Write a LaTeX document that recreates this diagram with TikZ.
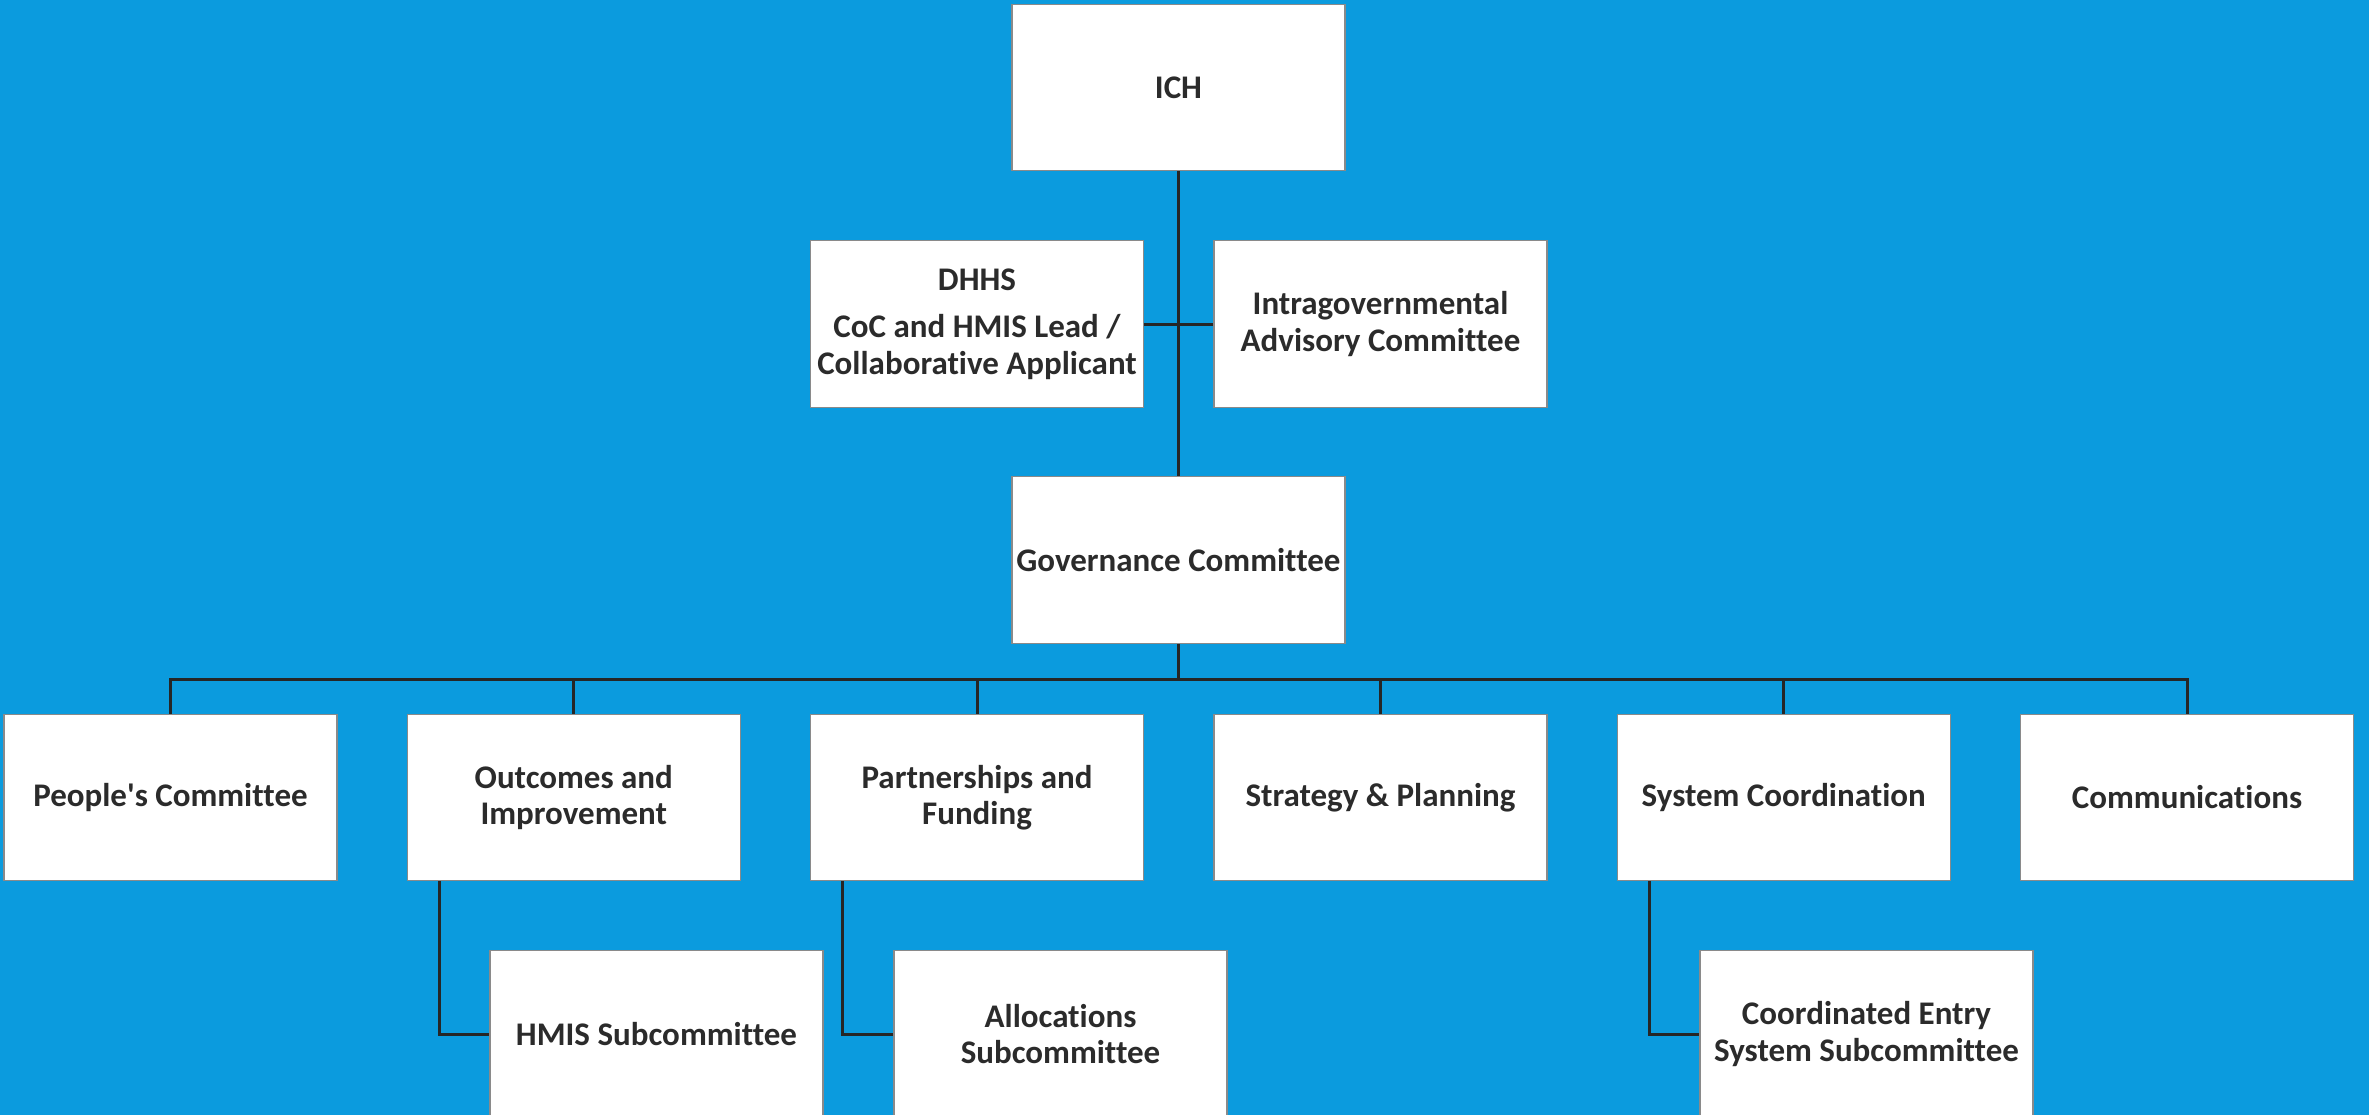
\documentclass[tikz,border=0pt]{standalone}
\usepackage{fontspec}
\newfontfamily\labfont{Carlito}[Ligatures=NoCommon]
\definecolor{bg}{HTML}{0B9BDE}
\definecolor{txt}{HTML}{2B2B2B}
\definecolor{ln}{HTML}{262626}
\definecolor{bd}{HTML}{8A8A8A}
\begin{document}
\begin{tikzpicture}[x=1pt,y=-1pt,
  box/.style={draw=bd,line width=1.2pt,fill=white,minimum width=333pt,minimum height=166.5pt,
    inner sep=2pt,align=center,text=txt,font=\labfont\fontsize{33}{36.5}\selectfont\bfseries},
  conn/.style={draw=ln,line width=3pt}]
\useasboundingbox (0,0) rectangle (2369,1115);
\clip (0,0) rectangle (2369,1115);
\fill[bg] (0,0) rectangle (2369,1115);
% nodes
\node[box] (ich) at (1178.5,87.5) {ICH};
\node[box] (dhhs) at (977,324) {DHHS\\[11pt]CoC and HMIS Lead /\\Collaborative Applicant};
\node[box] (intra) at (1380.5,324) {Intragovernmental\\Advisory Committee};
\node[box] (gov) at (1178.5,560) {Governance Committee};
\node[box] (people) at (170.5,797.5) {People's Committee};
\node[box] (outc) at (573.8,797.5) {Outcomes and\\Improvement};
\node[box] (partn) at (977,797.5) {Partnerships and\\Funding};
\node[box] (strat) at (1380.5,797.5) {Strategy \& Planning};
\node[box] (sysc) at (1783.7,797.5) {System Coordination};
\node[box] (comm) at (2187,797.5) {Communications};
\node[box] (hmis) at (656.5,1034) {HMIS Subcommittee};
\node[box] (alloc) at (1060.5,1034) {Allocations\\Subcommittee};
\node[box] (ces) at (1866.5,1034) {Coordinated Entry\\System Subcommittee};
\coordinate (bus) at (1178.5,679);
% connectors
\draw[conn] (ich.south) -- (gov.north);
\draw[conn] (dhhs.east) -- (intra.west);
\draw[conn] (gov.south) -- (bus);
\draw[conn] (people.north) |- (bus) -| (comm.north);
\foreach \n in {outc,partn,strat,sysc} \draw[conn] (\n.north) -- (\n.north |- bus);
\draw[conn] ([xshift=33pt]outc.south west) |- (hmis.west);
\draw[conn] ([xshift=33pt]partn.south west) |- (alloc.west);
\draw[conn] ([xshift=33pt]sysc.south west) |- (ces.west);
\end{tikzpicture}
\end{document}
